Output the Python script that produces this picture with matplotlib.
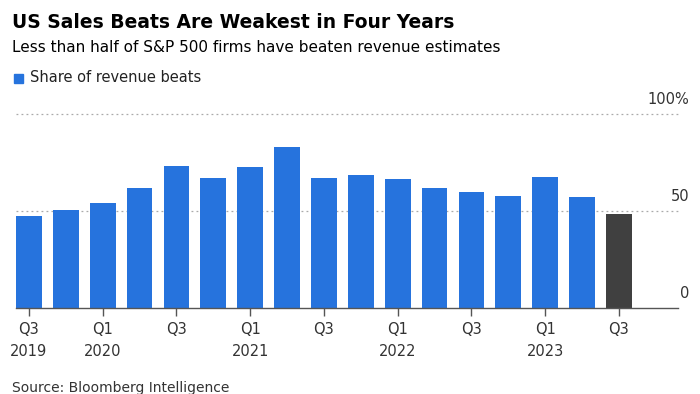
import matplotlib
matplotlib.use('Agg')
import matplotlib.pyplot as plt
import matplotlib.transforms as mtrans

# share of S&P 500 firms beating revenue estimates, by quarter
quarters = ['Q3 2019', 'Q4 2019', 'Q1 2020', 'Q2 2020', 'Q3 2020', 'Q4 2020',
            'Q1 2021', 'Q2 2021', 'Q3 2021', 'Q4 2021', 'Q1 2022', 'Q2 2022',
            'Q3 2022', 'Q4 2022', 'Q1 2023', 'Q2 2023', 'Q3 2023']
beats = [47.6, 50.7, 54.2, 62.0, 73.2, 67.4, 72.8, 83.0, 67.4,
         68.9, 66.5, 62.2, 59.7, 57.9, 67.5, 57.4, 48.7]
tick_idx = [0, 2, 4, 6, 8, 10, 12, 14, 16]
tick_labels = ['Q3\n2019', 'Q1\n2020', 'Q3', 'Q1\n2021', 'Q3',
               'Q1\n2022', 'Q3', 'Q1\n2023', 'Q3']
y_ticks = [0, 50, 100]
y_labels = ['0', '50', '100%']

BLUE = '#2673dd'
DARK = '#404040'
W, H = 700, 394

fig = plt.figure(figsize=(7, 3.94), dpi=100)
ax = fig.add_axes([16 / W, (H - 308.3) / H, 662 / W, 194 / H])

colors = [BLUE] * (len(beats) - 1) + [DARK]
ax.bar(range(len(beats)), beats, width=0.7, color=colors, zorder=2)

ax.set_ylim(0, 100)
ax.set_xlim(-0.35, 17.6)
for y in y_ticks[1:]:
    ax.axhline(y, color='#aaaaaa', lw=0.9, ls=(0, (1.5, 2.5)), zorder=1, clip_on=False)

for s in ['top', 'right', 'left']:
    ax.spines[s].set_visible(False)
ax.spines['bottom'].set_color('#555555')
ax.spines['bottom'].set_linewidth(1.0)
ax.set_yticks([])
ax.set_xticks(tick_idx)
ax.set_xticklabels(tick_labels, fontsize=10.5, color='#333333', linespacing=1.6)
ax.tick_params(axis='x', length=6, width=1.0, color='#555555', pad=4)

# right side value labels sitting above gridlines
tr = mtrans.blended_transform_factory(fig.transFigure, ax.transData)
for y, lab in zip(y_ticks, y_labels):
    ax.annotate(lab, xy=(689 / W, y), xycoords=tr, xytext=(0, 5),
                textcoords='offset points', ha='right', va='bottom',
                fontsize=10.5, color='#333333')

fig.text(12 / W, 1 - 23 / H, 'US Sales Beats Are Weakest in Four Years',
         fontsize=13.5, fontweight='bold', va='center', ha='left', color='black')
fig.text(12 / W, 1 - 47 / H, 'Less than half of S&P 500 firms have beaten revenue estimates',
         fontsize=11, va='center', ha='left', color='black')
fig.patches.append(plt.Rectangle((14 / W, 1 - 83 / H), 9 / W, 9 / H,
                                 transform=fig.transFigure, color=BLUE))
fig.text(30 / W, 1 - 78 / H, 'Share of revenue beats',
         fontsize=10.5, va='center', ha='left', color='#222222')
fig.text(12 / W, 1 - 392 / H, 'Source: Bloomberg Intelligence',
         fontsize=10, va='baseline', ha='left', color='#333333')

fig.savefig('out.png', dpi=100)
